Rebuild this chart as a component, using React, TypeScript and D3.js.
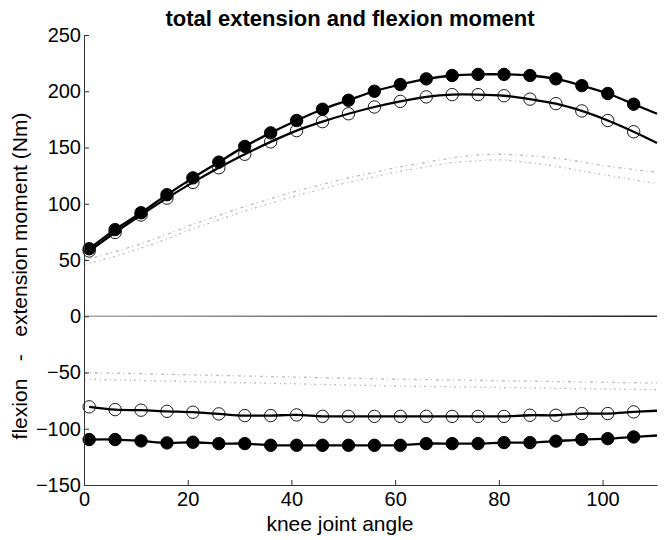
import React, { useEffect, useRef } from "react";
import * as d3 from "d3";

// knee angles where markers sit, plus the end of the traces
const markerAngles = [1, 6, 11, 16, 21, 26, 31, 36, 41, 46, 51, 56, 61, 66, 71, 76, 81, 86, 91, 96, 101, 106];
const endAngle = 110.5;

// extension (upper) curves
const extFilled = [60, 77, 92, 108, 123, 137, 151, 163, 174, 184, 192, 200, 206, 211, 214, 215, 215, 214, 211, 205, 198, 188.5];
const extFilledEnd = 180;
const extOpen = [58, 74.5, 90, 105, 119, 132, 144, 155, 165, 173, 180, 186, 191, 195, 197, 197, 196, 193, 189, 182.5, 174, 164];
const extOpenEnd = 154;

// flexion (lower) curves
const flexOpen = [-80.5, -83, -83.5, -84.5, -85.3, -86.8, -88.3, -88.3, -87.7, -89, -89, -89, -89, -89, -89, -89, -89, -88, -88, -86.5, -86.5, -85];
const flexOpenEnd = -84;
const flexFilled = [-109.6, -109.6, -110.8, -112.6, -112, -113.2, -113.2, -114.7, -114.7, -114.7, -114.7, -114.7, -114.7, -113.2, -113.2, -113.2, -112.3, -112.3, -111, -109.6, -108.8, -107.3];
const flexFilledEnd = -106;

// grey dotted traces
const greyAngles = [0, 5, 10, 15, 20, 25, 30, 35, 40, 45, 50, 55, 60, 65, 70, 75, 80, 85, 90, 95, 100, 105, 110.5];
const greyUpperA = [50, 56, 63, 71, 80, 88, 96, 103, 110, 116, 122, 127, 132, 136, 140, 143, 144, 143, 141, 138, 134, 131, 128];
const greyUpperB = [46, 52, 59, 67, 76, 84, 92, 99, 106, 112, 118, 123, 128, 132, 136, 138, 139, 137, 134, 130, 126, 122, 118];
const greyLowerA = [-50, -50.5, -51, -51.5, -52, -52.5, -53, -53.5, -54, -54.5, -55, -55.5, -56, -56.3, -56.6, -57, -57.3, -57.6, -58, -58.3, -58.6, -59, -59.3];
const greyLowerB = [-56, -56.5, -57, -57.5, -58, -58.5, -59, -59.5, -60, -60.5, -61, -61.5, -62, -62.3, -62.6, -63, -63.3, -63.6, -64, -64.3, -64.6, -65, -65.3];

const xTicks = [0, 20, 40, 60, 80, 100];
const yTicks = [-150, -100, -50, 0, 50, 100, 150, 200, 250];

const W = 672;
const H = 540;
const FONT = "'Liberation Sans', Arial, sans-serif";

const App = () => {
  const ref = useRef<SVGSVGElement>(null);

  useEffect(() => {
    const svg = d3.select(ref.current);
    svg.selectAll("*").remove();

    const x = d3.scaleLinear().domain([0, endAngle]).range([84, 657]);
    const y = d3.scaleLinear().domain([-150, 250]).range([485, 35]);

    svg.append("rect").attr("width", W).attr("height", H).attr("fill", "white");

    // zero line fades from grey to dark
    const grad = svg.append("defs").append("linearGradient")
      .attr("id", "zeroGrad")
      .attr("x1", "0%").attr("x2", "100%");
    grad.append("stop").attr("offset", "0%").attr("stop-color", "#aaa");
    grad.append("stop").attr("offset", "100%").attr("stop-color", "#222");

    const line = d3.line<[number, number]>()
      .x(d => x(d[0]))
      .y(d => y(d[1]))
      .curve(d3.curveCatmullRom.alpha(0.5));

    // grey traces
    const greys = [greyUpperA, greyUpperB, greyLowerA, greyLowerB];
    greys.forEach((vals, k) => {
      svg.append("path")
        .attr("d", line(greyAngles.map((a, i) => [a, vals[i]] as [number, number])))
        .attr("fill", "none")
        .attr("stroke", "#bbb")
        .attr("stroke-width", 1.3)
        .attr("stroke-dasharray", k % 2 ? "2,4,1,3" : "3,3,1,4");
    });

    svg.append("rect")
      .attr("x", x(0)).attr("width", x(endAngle) - x(0))
      .attr("y", y(0) - 0.75).attr("height", 1.5)
      .attr("fill", "url(#zeroGrad)");

    const series = [
      { vals: extFilled, end: extFilledEnd, filled: true },
      { vals: extOpen, end: extOpenEnd, filled: false },
      { vals: flexOpen, end: flexOpenEnd, filled: false },
      { vals: flexFilled, end: flexFilledEnd, filled: true },
    ];

    series.forEach(s => {
      const pts = markerAngles.map((a, i) => [a, s.vals[i]] as [number, number]);
      pts.push([endAngle, s.end]);
      svg.append("path")
        .attr("d", line(pts))
        .attr("fill", "none")
        .attr("stroke", "black")
        .attr("stroke-width", 2.3);
      svg.append("g")
        .selectAll("circle")
        .data(pts.slice(0, markerAngles.length))
        .join("circle")
        .attr("cx", d => x(d[0]))
        .attr("cy", d => y(d[1]))
        .attr("r", 6.2)
        .attr("fill", s.filled ? "black" : "none")
        .attr("stroke", "black")
        .attr("stroke-width", s.filled ? 1 : 0.9);
    });

    // axes (ticks pointing inward)
    const xAxis = svg.append("g")
      .attr("transform", `translate(0,${y(-150)})`)
      .call(d3.axisBottom(x).tickValues(xTicks).tickSize(-5).tickPadding(7).tickSizeOuter(0));
    xAxis.select(".domain").attr("stroke", "#333");
    xAxis.selectAll(".tick line").attr("stroke", "#333");
    xAxis.selectAll("text").attr("font-family", FONT).attr("font-size", 20).attr("fill", "black");

    const yAxis = svg.append("g")
      .attr("transform", `translate(${x(0)},0)`)
      .call(d3.axisLeft(y).tickValues(yTicks).tickSize(-5).tickPadding(3).tickSizeOuter(0));
    yAxis.select(".domain").attr("stroke", "#333");
    yAxis.selectAll(".tick line").attr("stroke", "#333");
    yAxis.selectAll("text").attr("font-family", FONT).attr("font-size", 20).attr("fill", "black");

    svg.append("text")
      .attr("x", 350).attr("y", 26)
      .attr("text-anchor", "middle")
      .attr("font-family", FONT)
      .attr("font-size", 22)
      .attr("font-weight", "bold")
      .text("total extension and flexion moment");

    svg.append("text")
      .attr("x", 340).attr("y", 531)
      .attr("text-anchor", "middle")
      .attr("font-family", FONT)
      .attr("font-size", 21)
      .text("knee joint angle");

    svg.append("text")
      .attr("transform", "translate(27,276) rotate(-90)")
      .attr("text-anchor", "middle")
      .attr("font-family", FONT)
      .attr("font-size", 21)
      .attr("xml:space", "preserve")
      .style("white-space", "pre")
      .text("flexion   -   extension moment (Nm)");
  }, []);

  return (
    <svg ref={ref} width={W} height={H} style={{ position: "absolute", left: 0, top: 0 }} />
  );
};

export default App;
